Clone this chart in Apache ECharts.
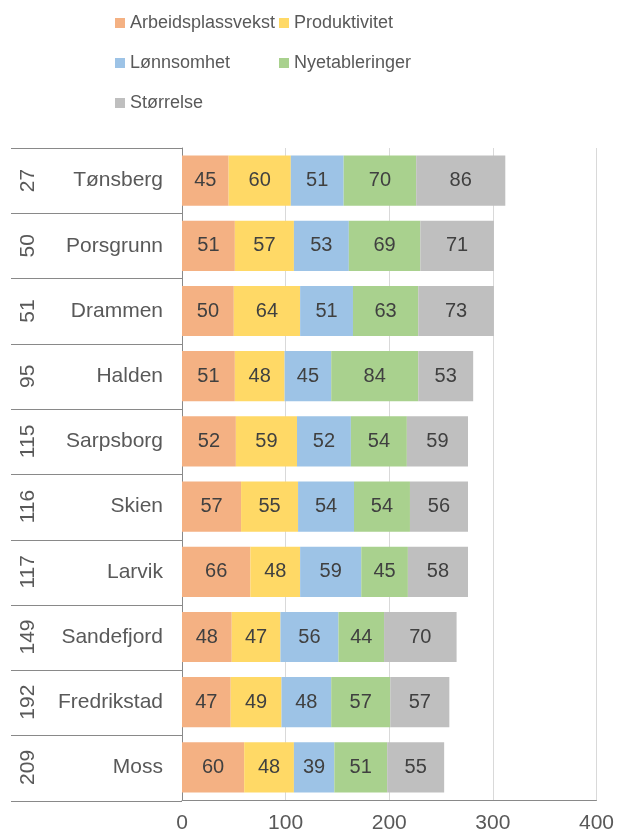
<!DOCTYPE html>
<html>
<head>
<meta charset="utf-8">
<script src="https://cdn.jsdelivr.net/npm/echarts@6/dist/echarts.min.js"></script>
<style>
  html, body { margin: 0; padding: 0; background: #fff; }
  #chart { width: 617px; height: 834px; }
</style>
</head>
<body>
<div id="chart"></div>
<script>
// Municipalities, top to bottom, with their overall rank
const cities = ['Tønsberg', 'Porsgrunn', 'Drammen', 'Halden', 'Sarpsborg', 'Skien', 'Larvik', 'Sandefjord', 'Fredrikstad', 'Moss'];
const ranks = ['27', '50', '51', '95', '115', '116', '117', '149', '192', '209'];

// Index components per municipality
const arbeidsplassvekst = [45, 51, 50, 51, 52, 57, 66, 48, 47, 60];
const produktivitet     = [60, 57, 64, 48, 59, 55, 48, 47, 49, 48];
const lonnsomhet        = [51, 53, 51, 45, 52, 54, 59, 56, 48, 39];
const nyetableringer    = [70, 69, 63, 84, 54, 54, 45, 44, 57, 51];
const storrelse         = [86, 71, 73, 53, 59, 56, 58, 70, 57, 55];

const seriesDefs = [
  { name: 'Arbeidsplassvekst', data: arbeidsplassvekst, color: '#F4B183' },
  { name: 'Produktivitet',     data: produktivitet,     color: '#FFD966' },
  { name: 'Lønnsomhet',        data: lonnsomhet,        color: '#9DC3E6' },
  { name: 'Nyetableringer',    data: nyetableringer,    color: '#A9D18E' },
  { name: 'Størrelse',         data: storrelse,         color: '#BFBFBF' }
];

const FONT = '"Liberation Sans", Arial, sans-serif';
const TEXT = '#595959';
const AXIS = '#898989';

const chart = echarts.init(document.getElementById('chart'), null, { renderer: 'canvas' });

const legendText = { color: TEXT, fontSize: 18, fontFamily: FONT, lineHeight: 20 };

chart.setOption({
  animation: false,
  backgroundColor: '#fff',
  legend: [
    {
      orient: 'vertical', left: 110, top: 8, itemGap: 20,
      itemWidth: 10, itemHeight: 10, icon: 'rect',
      data: ['Arbeidsplassvekst', 'Lønnsomhet', 'Størrelse'],
      textStyle: legendText
    },
    {
      orient: 'vertical', left: 274, top: 8, itemGap: 20,
      itemWidth: 10, itemHeight: 10, icon: 'rect',
      data: ['Produktivitet', 'Nyetableringer'],
      textStyle: legendText
    }
  ],
  grid: [
    { left: 182, right: 20, top: 148, bottom: 33 },
    { left: 11, width: 171, top: 148, bottom: 33 }
  ],
  xAxis: [
    {
      gridIndex: 0, type: 'value', min: 0, max: 400, interval: 100,
      axisLine: { show: true, lineStyle: { color: AXIS, width: 1 } },
      axisTick: { show: false },
      axisLabel: { color: TEXT, fontSize: 21, fontFamily: FONT, margin: 13 },
      splitLine: { show: true, lineStyle: { color: '#D9D9D9', width: 1 } }
    },
    { gridIndex: 1, type: 'value', show: false }
  ],
  yAxis: [
    {
      gridIndex: 0, type: 'category', data: cities, inverse: true,
      axisLine: { show: true, lineStyle: { color: AXIS, width: 1 } },
      axisTick: { show: false },
      axisLabel: { color: TEXT, fontSize: 21, fontFamily: FONT, margin: 19 },
      splitLine: { show: false }
    },
    {
      gridIndex: 0, type: 'category', data: ranks, inverse: true,
      position: 'left', offset: 141,
      axisLine: { show: false },
      axisTick: { show: false },
      axisLabel: { color: TEXT, fontSize: 21, fontFamily: FONT, rotate: 90, margin: 2 },
      splitLine: { show: false }
    },
    {
      // row separators for the label columns
      gridIndex: 1, type: 'category', data: cities, inverse: true,
      axisLine: { show: false },
      axisTick: { show: false },
      axisLabel: { show: false },
      splitLine: { show: true, lineStyle: { color: AXIS, width: 1 } }
    }
  ],
  series: seriesDefs.map(s => ({
    name: s.name,
    type: 'bar',
    stack: 'total',
    xAxisIndex: 0,
    yAxisIndex: 0,
    barCategoryGap: '23%',
    data: s.data,
    itemStyle: { color: s.color },
    label: {
      show: true, position: 'inside',
      color: '#404040', fontSize: 20, fontFamily: FONT
    }
  }))
});
</script>
</body>
</html>
